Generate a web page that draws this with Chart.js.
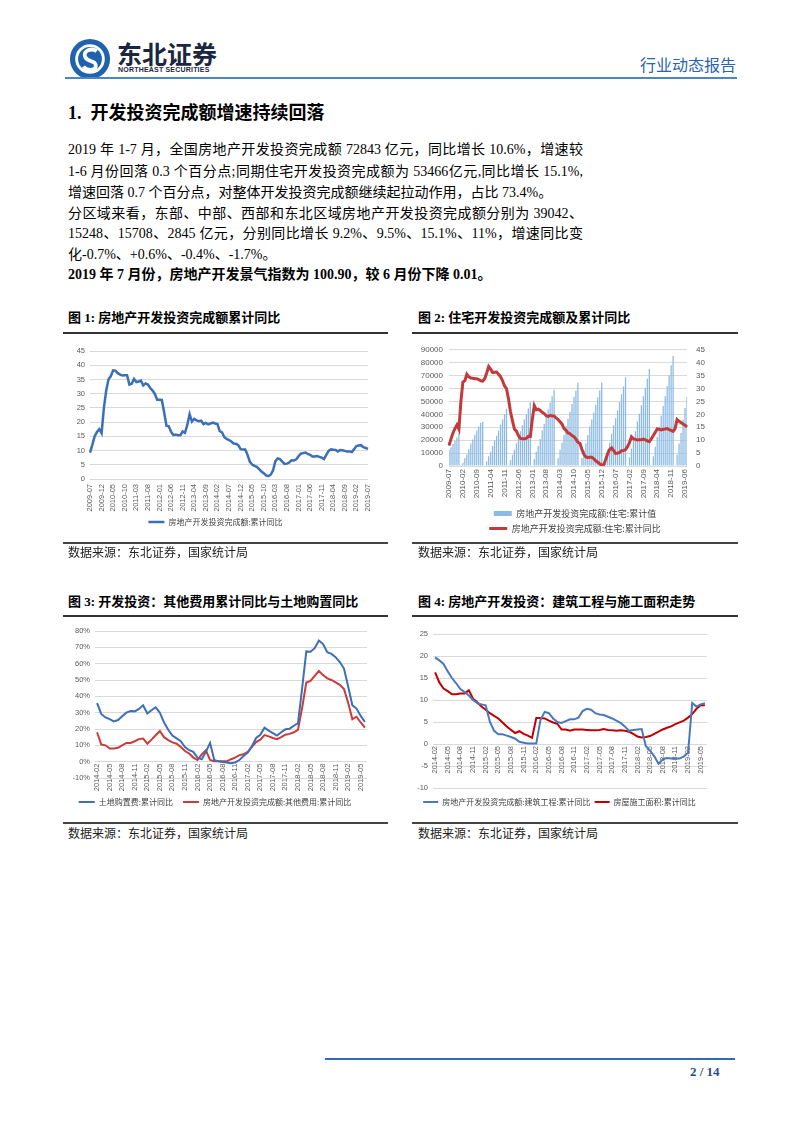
<!DOCTYPE html>
<html lang="zh-CN">
<head>
<meta charset="utf-8">
<title>行业动态报告</title>
<script src="https://cdn.jsdelivr.net/npm/chart.js@4.4.0/dist/chart.umd.min.js"></script>
<style>
  html, body { margin: 0; padding: 0; background: #fff; }
  #page { position: relative; width: 802px; height: 1133px; overflow: hidden;
          font-family: "Liberation Serif", "Noto Sans CJK SC", serif; color: #000; }
  .abs { position: absolute; white-space: nowrap; }
  .rule { position: absolute; }
  .ln { position: absolute; left: 68px; width: 515px; font-size: 14px; line-height: 21px; white-space: nowrap; }
  .full { text-align: justify; text-align-last: justify; }
  .ctitle { font-size: 13px; font-weight: bold; line-height: 16px; }
  .src { font-size: 12px; line-height: 14px; color: #222; }
  .box { position: absolute; }
</style>
</head>
<body>
<div id="page">
  <!-- 页眉 -->
  <svg class="abs" style="left:69px;top:38px" width="42" height="42" viewBox="0 0 44 44">
    <circle cx="22" cy="22" r="21" fill="#1f63ae"/>
    <circle cx="22" cy="22" r="14" fill="none" stroke="#fff" stroke-width="3"/>
    <path d="M29 14 C 24 10, 14 13, 17 20 C 20 26, 29 23, 28 30 C 27 35, 18 34, 15 30" fill="none" stroke="#fff" stroke-width="4"/>
  </svg>
  <div class="abs" style="left:117px;top:40px;font:bold 25px/26px 'Noto Sans CJK SC';color:#1b2740">东北证券</div>
  <div class="abs" style="left:118px;top:66px;font:bold 7px/8px 'Liberation Sans';color:#1b2740;letter-spacing:0.2px">NORTHEAST SECURITIES</div>
  <div class="abs" style="left:640px;top:55px;font:16px/18px 'Noto Sans CJK SC';color:#2a64ad">行业动态报告</div>
  <div class="rule" style="left:65px;top:77px;width:672px;height:2px;background:#4a86c8"></div>

  <!-- 正文 -->
  <div class="abs" style="left:68px;top:103px;font-size:18px;line-height:20px;font-weight:bold">1.&nbsp; 开发投资完成额增速持续回落</div>
  <div class="ln full" style="top:139px">2019 年 1-7 月，全国房地产开发投资完成额 72843 亿元，同比增长 10.6%，增速较</div>
  <div class="ln full" style="top:161px">1-6 月份回落 0.3 个百分点;同期住宅开发投资完成额为 53466亿元,同比增长 15.1%,</div>
  <div class="ln" style="top:182px">增速回落 0.7 个百分点，对整体开发投资完成额继续起拉动作用，占比 73.4%。</div>
  <div class="ln full" style="top:203px">分区域来看，东部、中部、西部和东北区域房地产开发投资完成额分别为 39042、</div>
  <div class="ln full" style="top:223px">15248、15708、2845 亿元，分别同比增长 9.2%、9.5%、15.1%、11%，增速同比变</div>
  <div class="ln" style="top:244px">化-0.7%、+0.6%、-0.4%、-1.7%。</div>
  <div class="ln" style="top:264px;font-weight:bold">2019 年 7 月份，房地产开发景气指数为 100.90，较 6 月份下降 0.01。</div>

  <!-- 图 1 / 图 2 -->
  <div class="abs ctitle" style="left:68px;top:310px">图 1: 房地产开发投资完成额累计同比</div>
  <div class="abs ctitle" style="left:418px;top:310px">图 2: 住宅开发投资完成额及累计同比</div>
  <div class="rule" style="left:63px;top:332px;width:325px;height:2px;background:#333"></div>
  <div class="rule" style="left:412px;top:332px;width:326px;height:2px;background:#333"></div>
  <div class="box" style="left:63px;top:336px;width:325px;height:200px"><canvas id="chart1"></canvas></div>
  <div class="box" style="left:412px;top:336px;width:326px;height:207px"><canvas id="chart2"></canvas></div>
  <div class="rule" style="left:63px;top:542px;width:325px;height:2px;background:#444"></div>
  <div class="rule" style="left:412px;top:542px;width:326px;height:2px;background:#444"></div>
  <div class="abs src" style="left:68px;top:546px">数据来源：东北证券，国家统计局</div>
  <div class="abs src" style="left:418px;top:546px">数据来源：东北证券，国家统计局</div>

  <!-- 图 3 / 图 4 -->
  <div class="abs ctitle" style="left:68px;top:594px">图 3: 开发投资：其他费用累计同比与土地购置同比</div>
  <div class="abs ctitle" style="left:418px;top:594px">图 4: 房地产开发投资：建筑工程与施工面积走势</div>
  <div class="rule" style="left:63px;top:615px;width:325px;height:2px;background:#333"></div>
  <div class="rule" style="left:412px;top:615px;width:326px;height:2px;background:#333"></div>
  <div class="box" style="left:63px;top:617px;width:325px;height:199px"><canvas id="chart3"></canvas></div>
  <div class="box" style="left:412px;top:617px;width:326px;height:199px"><canvas id="chart4"></canvas></div>
  <div class="rule" style="left:63px;top:822px;width:325px;height:2px;background:#444"></div>
  <div class="rule" style="left:412px;top:822px;width:326px;height:2px;background:#444"></div>
  <div class="abs src" style="left:68px;top:827px">数据来源：东北证券，国家统计局</div>
  <div class="abs src" style="left:418px;top:827px">数据来源：东北证券，国家统计局</div>

  <!-- 页脚 -->
  <div class="rule" style="left:325px;top:1058px;width:410px;height:2px;background:#2e6db4"></div>
  <div class="abs" style="left:690px;top:1064px;font-size:13px;line-height:16px;font-weight:bold;color:#1f4e8c">2 / 14</div>
</div>

<script>
// 月份类别
function monthLabels(year, month, n) {
    const out = [];
    for (let i = 0; i < n; i++) {
        out.push(year + '-' + String(month).padStart(2, '0'));
        month++;
        if (month > 12) { month = 1; year++; }
    }
    return out;
}

const meses1 = monthLabels(2009, 7, 121);   // 2009-07 .. 2019-07
const meses3 = monthLabels(2014, 2, 65);    // 2014-02 .. 2019-06

// 图1 房地产开发投资完成额:累计同比
const inversionYoY = [
    9.3, 12, 15, 16.5, 17.5, 16.1,
    25, 31.1, 35.1, 36.2, 38.2, 38.1, 37.2, 36.7, 36.4, 36.5, 36.5, 33.2,
    33.5, 35.2, 34.1, 34.3, 34.6, 32.9, 33.6, 33.2, 32.0, 31.1, 29.9, 27.9,
    27.9, 27.8, 23.5, 18.7, 18.5, 16.6, 15.4, 15.6, 15.4, 15.4, 16.7, 16.2,
    19.0, 22.8, 20.2, 21.1, 20.6, 20.3, 20.5, 19.3, 19.7, 19.2, 19.5, 19.8,
    19.5, 19.3, 16.8, 16.4, 14.7, 14.1, 13.7, 13.2, 12.5, 12.4, 11.9, 10.5,
    10.4, 10.4, 8.5, 6.0, 5.1, 4.6, 4.3, 3.5, 2.6, 2.0, 1.3, 1.0,
    1.5, 3.0, 6.2, 7.2, 7.0, 6.1, 5.3, 5.4, 5.8, 6.6, 6.5, 6.9,
    8.0, 8.9, 9.1, 9.3, 8.8, 8.5, 7.9, 7.9, 8.1, 7.8, 7.5, 7.0,
    8.5, 9.9, 10.4, 10.3, 10.2, 9.7, 10.2, 10.1, 9.9, 9.7, 9.7, 9.5,
    10.5, 11.6, 11.8, 11.9, 11.2, 10.9, 10.6
];

// 图2 住宅:累计值(亿元) 与 累计同比(%)
const viviendaAcum = [
    12500, 14500, 17000, 19500, 22000, 25600,
    null, 2500, 6000, 9000, 13000, 17500, 20500, 24000, 27500, 30500, 33500, 34000,
    null, 3700, 7500, 11000, 15500, 19500, 23500, 27500, 32000, 36000, 40000, 44300,
    null, 4500, 8800, 12500, 17500, 23000, 27000, 31500, 36000, 40000, 44500, 49400,
    null, 5500, 11000, 15500, 21000, 27500, 32500, 38000, 44000, 49000, 54000, 59000,
    null, 6000, 12500, 18000, 24000, 31000, 36500, 42000, 48000, 53500, 58500, 64400,
    null, 6200, 12000, 17500, 24000, 30500, 36000, 41500, 47500, 53000, 58500, 64600,
    null, 6300, 12500, 18000, 25000, 31500, 37000, 43000, 49500, 55500, 61500, 68700,
    null, 6800, 13500, 20000, 27000, 34500, 40500, 47000, 54000, 60500, 67500, 75100,
    null, 7600, 15000, 22500, 30500, 39000, 46500, 54000, 62000, 70000, 78000, 85200,
    null, 8800, 17400, 25500, 36000, 45000, 53500
];
const viviendaYoY = [
    7.9, 10.5, 12.8, 14.5, 15.9, 14.2,
    25, 32.5, 33.0, 35.5, 34.5, 34.1, 34.0, 33.8, 33.8, 33.5, 33.0, 32.9,
    33.8, 36.0, 38.5, 37.5, 36.2, 36.3, 36.4, 35.5, 34.6, 33.0, 31.0, 30.0,
    26.0, 21.0, 17.5, 14.3, 13.5, 11.8, 10.7, 10.6, 10.6, 10.7, 11.5, 11.4,
    18.0, 23.4, 21.8, 22.0, 21.5, 20.8, 20.3, 19.5, 19.2, 19.6, 19.4, 19.4,
    18.6, 18.0, 17.1, 16.2, 14.5, 13.8, 12.8, 12.5, 11.8, 11.4, 10.4, 9.2,
    8.8, 6.5, 4.5, 3.5, 3.3, 3.4, 3.4, 2.8, 2.0, 1.5, 0.8, 0.4,
    0.5, 2.5, 4.8, 6.4, 7.0, 6.0, 4.8, 5.0, 5.2, 5.9, 6.0, 6.4,
    7.5, 9.0, 11.3, 10.5, 10.3, 10.1, 10.2, 10.2, 10.4, 10.1, 9.7, 9.4,
    10.5, 11.8, 13.0, 14.4, 14.2, 14.0, 14.2, 14.3, 14.5, 14.1, 13.8, 13.4,
    14.5, 18.0, 17.3, 16.8, 16.3, 15.8, 15.1
];

// 图3 土地购置费 / 其他费用 累计同比(%)
const terrenoYoY = [
    35.9, 29.2, 27.1, 26.0, 24.6, 25.5, 27.8, 30.0, 31.0, 30.8, 32.3, 34.5,
    29.5, 31.5, 33.3, 30.0, 24.0, 19.5, 16.0, 14.3, 12.5, 9.0, 7.0, 6.0,
    2.5, 1.5, 6.0, 11.5, 1.0, 0.2, -0.2, -0.5, -1.0, -0.5, 1.0, 3.5,
    5.5, 9.5, 14.5, 16.5, 20.8, 19.0, 17.5, 16.0, 18.0, 19.8, 20.2, 22.0,
    23.5, 45.0, 67.5, 67.3, 69.5, 74.2, 72.0, 67.0, 66.0, 64.0, 61.0, 57.0,
    46.0, 34.5, 32.5, 28.0, 24.3
];
const otrosYoY = [
    18.0, 10.5, 10.0, 8.0, 8.0, 8.5, 10.0, 11.5, 11.5, 12.5, 13.8, 14.2,
    11.0, 13.5, 16.2, 18.8, 15.0, 13.2, 11.8, 11.0, 9.0, 6.5, 5.0, 2.5,
    1.0, 4.5, 7.0, 1.0, 0.3, 0.3, 0.3, 0.2, 1.5, 2.5, 4.0, 4.5,
    6.0, 9.0, 12.0, 13.5, 16.3, 15.5, 14.5, 13.8, 15.0, 16.5, 17.0, 18.0,
    19.5, 33.0, 48.5, 49.5, 52.5, 55.5, 53.0, 51.0, 50.0, 48.5, 47.0, 44.5,
    36.0, 26.0, 27.5, 24.0, 20.8
];

// 图4 建筑工程 / 施工面积 累计同比(%)
const obraYoY = [
    19.7, 19.0, 18.2, 16.5, 15.0, 13.8, 12.5, 11.8, 11.0, 10.0, 9.3, 9.0,
    8.8, 5.0, 3.0, 2.2, 2.2, 1.9, 1.6, 1.2, 0.5, 0.3, 0.1, 0.1,
    0.1, 5.5, 7.3, 7.0, 5.8, 5.0, 4.8, 5.2, 5.6, 5.6, 6.0, 7.5,
    8.0, 7.8, 7.0, 6.7, 6.6, 6.2, 5.8, 5.3, 4.8, 4.0, 3.0, 3.2,
    3.3, 3.4, -0.5, -1.5, -2.8, -4.5, -3.5, -3.2, -3.3, -3.3, -3.3, -2.8,
    -2.0, 9.3, 8.5, 9.0, 9.3
];
const superficieYoY = [
    16.3, 14.0, 12.6, 12.0, 11.3, 11.3, 11.5, 11.5, 12.2, 10.3, 9.5, 8.5,
    7.8, 7.0, 6.4, 5.8, 4.9, 4.0, 3.2, 2.5, 2.9, 2.3, 1.9, 1.4,
    5.9, 5.9, 5.8, 5.3, 4.9, 4.6, 3.3, 3.3, 3.0, 3.3, 3.3, 3.3,
    3.2, 3.1, 3.1, 3.2, 3.4, 3.2, 3.1, 3.0, 3.1, 3.0, 2.8, 2.3,
    1.7, 1.5, 1.6, 1.8, 2.3, 2.8, 3.3, 3.7, 4.0, 4.5, 4.9, 5.3,
    6.0, 6.8, 8.0, 8.8, 8.8
];

Chart.defaults.animation = false;
Chart.defaults.font.family = '"Liberation Sans", "Noto Sans CJK SC", sans-serif';
Chart.defaults.color = '#595959';

const colorGrid = '#d9d9d9';

function ejeX(cada, altura, padding, tam, extra) {
    return Object.assign({
        type: 'category',
        offset: false,
        grid: { display: false, drawTicks: false },
        border: { display: false },
        ticks: {
            autoSkip: false, minRotation: 90, maxRotation: 90, padding: padding,
            font: { size: tam },
            callback: function(v, i) { return i % cada === 0 ? this.getLabelForValue(v) : ''; }
        },
        afterFit: altura ? function(s) { s.height = altura; } : undefined
    }, extra || {});
}

function ejeY(min, max, paso, ancho, tam, pad, fmt, extra) {
    return Object.assign({
        min: min, max: max,
        grid: { color: colorGrid, drawTicks: false },
        border: { display: false },
        ticks: { stepSize: paso, padding: pad, font: { size: tam }, callback: fmt || (v => v) },
        afterFit: function(s) { s.width = ancho; }
    }, extra || {});
}

// 图例: padding 同时决定行距与间隔, title 仅用于留出上方空白
function leyenda(tam, padding, hueco, extraLabels) {
    const cfg = {
        position: 'bottom',
        labels: Object.assign({
            usePointStyle: true, pointStyleWidth: 16, padding: padding,
            color: '#404040', font: { family: '"Noto Sans CJK SC"', size: tam }
        }, extraLabels || {})
    };
    if (hueco) {
        cfg.title = { display: true, text: ' ', font: { size: 1, lineHeight: hueco + 'px' }, padding: 0 };
    }
    return cfg;
}

function linea(label, datos, color, ancho, extra) {
    return Object.assign({
        type: 'line', label: label, data: datos,
        borderColor: color, backgroundColor: color, borderWidth: ancho,
        pointRadius: 0, tension: 0, pointStyle: 'line', spanGaps: true
    }, extra || {});
}

// 图1
new Chart(document.getElementById('chart1'), {
    type: 'line',
    data: { labels: meses1, datasets: [linea('房地产开发投资完成额:累计同比', inversionYoY, '#3b6fb6', 2.5)] },
    options: {
        responsive: true, maintainAspectRatio: false,
        layout: { padding: { top: 15, right: 20, left: 0, bottom: 0 } },
        plugins: { legend: leyenda(8, 4), tooltip: { enabled: false } },
        scales: {
            x: ejeX(5, 35, 5, 7.5),
            y: ejeY(0, 45, 5, 27, 7.5, 5)
        }
    }
});

// 图2
new Chart(document.getElementById('chart2'), {
    data: {
        labels: meses1,
        datasets: [
            {
                type: 'bar', label: '房地产开发投资完成额:住宅:累计值', data: viviendaAcum,
                backgroundColor: '#8dbbe4', borderWidth: 0, yAxisID: 'y',
                barPercentage: 0.65, categoryPercentage: 1, pointStyle: 'rect', order: 1
            },
            linea('房地产开发投资完成额:住宅:累计同比', viviendaYoY, '#c23a3a', 3, { yAxisID: 'y1', order: 0 })
        ]
    },
    options: {
        responsive: true, maintainAspectRatio: false,
        layout: { padding: { top: 11, right: 0, left: 0, bottom: 0 } },
        plugins: {
            legend: leyenda(9, 6, 0, { boxHeight: 5, pointStyleWidth: 18, sort: (a, b) => a.datasetIndex - b.datasetIndex }),
            tooltip: { enabled: false }
        },
        scales: {
            x: ejeX(7, 37, 3, 8),
            y: ejeY(0, 90000, 10000, 37, 8, 6),
            y1: ejeY(0, 45, 5, 51, 8, 9, null, {
                position: 'right',
                grid: { drawOnChartArea: false, drawTicks: false }
            })
        }
    }
});

// 图3
new Chart(document.getElementById('chart3'), {
    type: 'line',
    data: {
        labels: meses3,
        datasets: [
            linea('土地购置费:累计同比', terrenoYoY, '#3b6fb6', 2),
            linea('房地产开发投资完成额:其他费用:累计同比', otrosYoY, '#cc3b3b', 2)
        ]
    },
    options: {
        responsive: true, maintainAspectRatio: false,
        layout: { padding: { top: 14, right: 21, left: 0, bottom: 0 } },
        plugins: { legend: leyenda(8, 10, 10), tooltip: { enabled: false } },
        scales: {
            x: ejeX(3, null, 2, 7.5, { position: { y: 0 }, offset: true }),
            y: ejeY(-10, 80, 10, 32, 7.5, 5, v => v + '%')
        }
    }
});

// 图4
new Chart(document.getElementById('chart4'), {
    type: 'line',
    data: {
        labels: meses3,
        datasets: [
            linea('房地产开发投资完成额:建筑工程:累计同比', obraYoY, '#4a78c0', 2),
            linea('房屋施工面积:累计同比', superficieYoY, '#c00000', 2)
        ]
    },
    options: {
        responsive: true, maintainAspectRatio: false,
        layout: { padding: { top: 17, right: 31, left: 0, bottom: 0 } },
        plugins: { legend: leyenda(8, 4, 6, { pointStyleWidth: 15 }), tooltip: { enabled: false } },
        scales: {
            x: ejeX(3, null, 2, 7.5, { position: { y: 0 }, offset: true }),
            y: ejeY(-10, 25, 5, 21, 7.5, 5)
        }
    }
});
</script>
</body>
</html>
